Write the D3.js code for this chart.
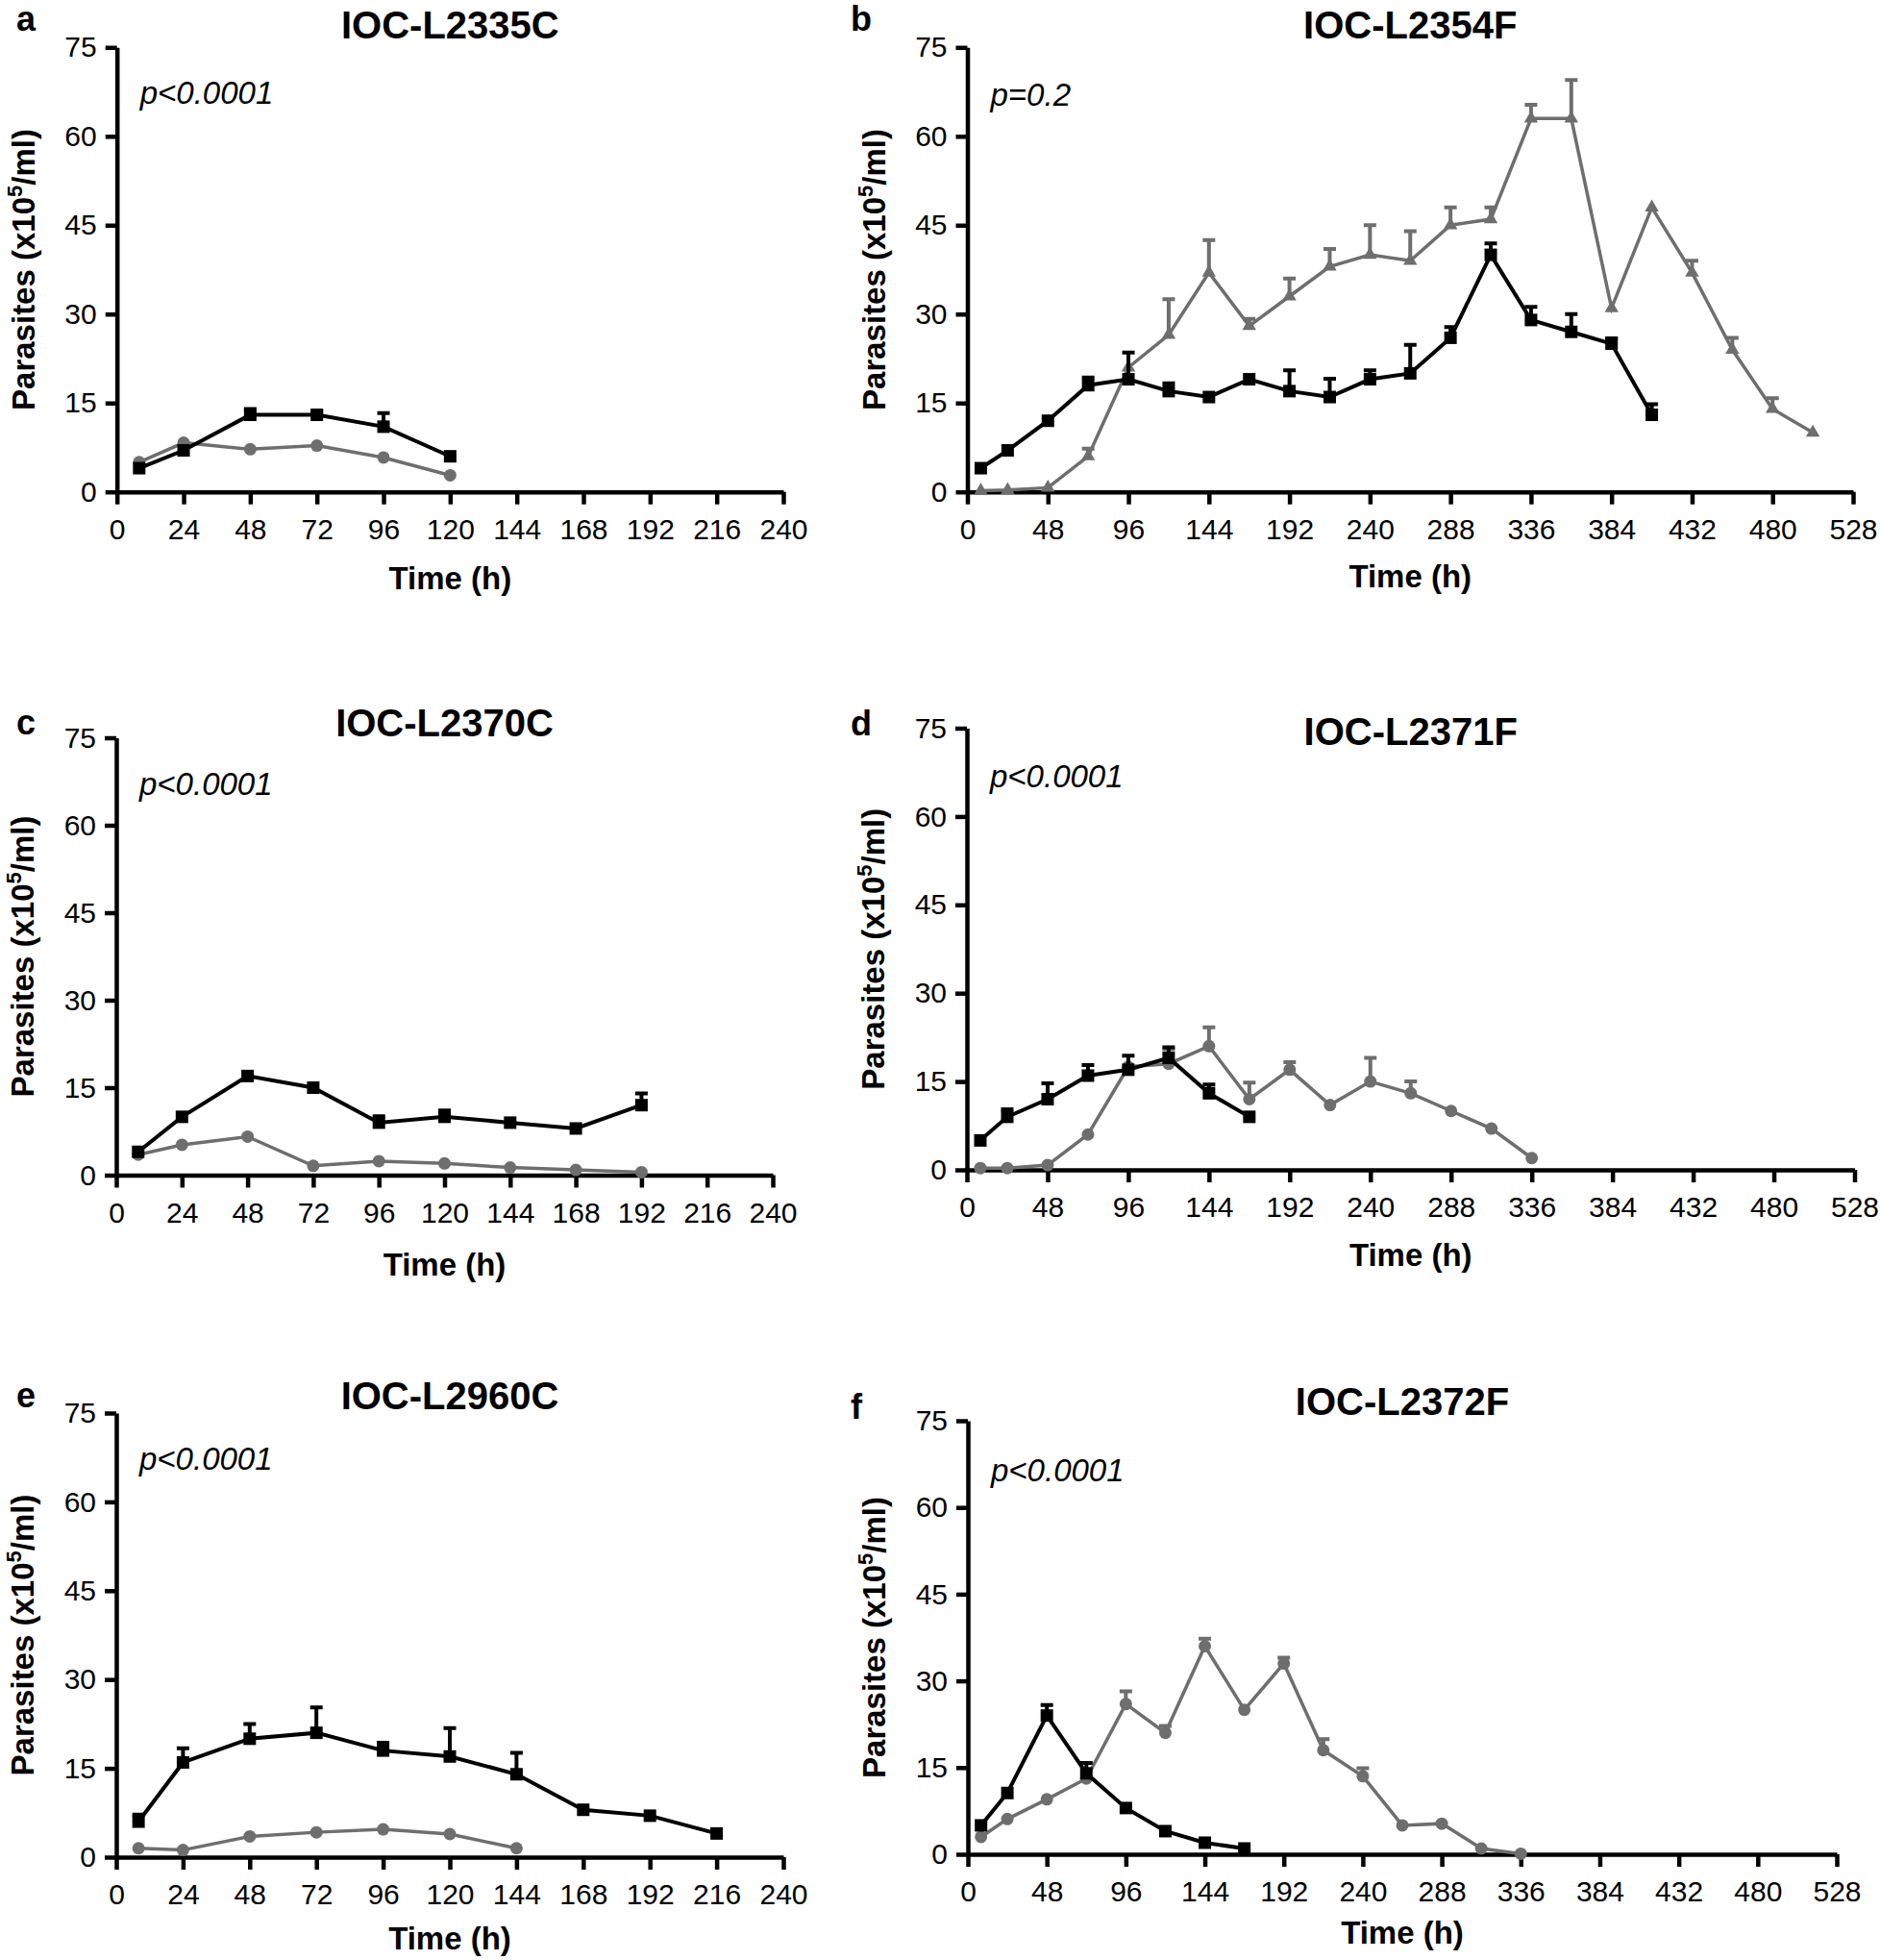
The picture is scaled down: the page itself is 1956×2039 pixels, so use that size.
<!DOCTYPE html>
<html>
<head>
<meta charset="utf-8">
<script src="https://cdnjs.cloudflare.com/ajax/libs/d3/7.8.5/d3.min.js"></script>
<style>
  body { margin: 0; background: #fff; }
  text { font-family: "Liberation Sans", Arial, Helvetica, sans-serif; }
</style>
</head>
<body>
<div id="chart"></div>
<script>
// data rows: [time (h), mean parasites (x10^5/ml), sem]
var aBlack = [[8,4,0],[24,7,0],[48,13,1],[72,13,0.6],[96,11,2.3],[120,6,0]];
var aGray  = [[8,5,0],[24,8.3,0],[48,7.2,0],[72,7.8,0],[96,5.8,0],[120,2.8,0]];

var bBlack = [[8,4,0],[24,7,0],[48,12,0],[72,18,1.3],[96,19,4.5],[120,17,1.3],[144,16,0],[168,19,0],
              [192,17,3.5],[216,16,3.1],[240,19,1.5],[264,20,4.8],[288,26,1.8],[312,40,1.9],[336,29,2.2],
              [360,27,3],[384,25,0.9],[408,13,1.8]];
var bGray  = [[8,0.2,0],[24,0.3,0],[48,0.7,0],[72,6,1.3],[96,21,0],[120,26.5,6],[144,37,5.5],[168,28,1.2],
              [192,33,3],[216,38,3],[240,40,5],[264,39,5],[288,45,3],[312,46,2],[336,63,2.3],[360,63,6.5],
              [384,31,0],[408,48,0],[432,37,2],[456,24,2],[480,14,1.8],[504,10,0]];

var cBlack = [[8,4,0],[24,10,0],[48,17,0],[72,15,0],[96,9,1.1],[120,10,1.1],[144,9,0],[168,8,0],[192,12,2]];
var cGray  = [[8,3.5,0],[24,5.2,0],[48,6.6,0],[72,1.6,0],[96,2.4,0],[120,2,0],[144,1.3,0],[168,0.9,0],[192,0.5,0]];

var dBlack = [[8,5,0],[24,9,1.3],[48,12,2.7],[72,16,1.8],[96,17,2.4],[120,19,1.8],[144,13,1.5],[168,9,0]];
var dGray  = [[8,0.3,0],[24,0.3,0],[48,0.8,0],[72,6,0],[96,17.5,0],[120,18,2.5],[144,21,3.2],[168,12,2.8],
              [192,17,1.3],[216,11,0],[240,15,4],[264,13,2],[288,10,0],[312,7,0],[336,2,0]];

var eBlack = [[8,6,1.2],[24,16,2.4],[48,20,2.5],[72,21,4.3],[96,18,1.3],[120,17,4.8],[144,14,3.6],[168,8,0],[192,7,0],[216,4,0]];
var eGray  = [[8,1.5,0],[24,1.2,0],[48,3.5,0],[72,4.2,0],[96,4.7,0],[120,3.9,0],[144,1.5,0]];

var fBlack = [[8,5,0],[24,10.6,0],[48,24,1.8],[72,14,1.8],[96,8,0],[120,4,0],[144,2,0],[168,1,0]];
var fGray  = [[8,3,0],[24,6.1,0],[48,9.5,0],[72,13.1,0],[96,26,2.2],[120,21,1.2],[144,36,1.3],[168,25,0],
              [192,33,1],[216,18,1.9],[240,13.5,1.4],[264,5,0],[288,5.3,0],[312,1,0],[336,0.1,0]];

var letters  = ["a","b","c","d","e","f"];
var titles   = ["IOC-L2335C","IOC-L2354F","IOC-L2370C","IOC-L2371F","IOC-L2960C","IOC-L2372F"];
var pValues  = ["p<0.0001","p=0.2","p<0.0001","p<0.0001","p<0.0001","p<0.0001"];
var xMaxes   = [240, 528, 240, 528, 240, 528];
var xSteps   = [24, 48, 24, 48, 24, 48];
var yTicks   = [0, 15, 30, 45, 60, 75];
var blackSeries = [aBlack, bBlack, cBlack, dBlack, eBlack, fBlack];
var graySeries  = [aGray, bGray, cGray, dGray, eGray, fGray];
var grayShapes  = ["circle","triangle","circle","circle","circle","circle"];

// panel placement (pixels)
var layout = [
  {left:121.7, right:815,   top:49.3,  bottom:511.7,  titleY:40,   letter:[17,32],    pY:108,  xlab:101},
  {left:1006.5,right:1928,  top:49.3,  bottom:511.7,  titleY:40,   letter:[885,32],   pY:110,  xlab:99},
  {left:121,   right:804,   top:767.5, bottom:1222.5, titleY:766,  letter:[17,764],   pY:827,  xlab:104},
  {left:1006,  right:1929.5,top:757.5, bottom:1217,   titleY:775,  letter:[885,765],  pY:819,  xlab:100},
  {left:121,   right:815,   top:1470,  bottom:1932,   titleY:1466, letter:[17,1464],  pY:1529, xlab:96},
  {left:1007,  right:1911,  top:1478,  bottom:1929,   titleY:1472, letter:[885,1476], pY:1541, xlab:93}
];

var svgWidth = 1956;
var svgHeight = 2039;
var gray = "#6e6e6e";
var axisWidth = 4.5;

var svg = d3.select("#chart")
  .append("svg")
  .attr("width", svgWidth)
  .attr("height", svgHeight)
  .style("background", "#fff");

letters.forEach(function(letter, i) {
  var L = layout[i];
  var g = svg.append("g").attr("class", "panel-" + letter);

  var x = d3.scaleLinear().domain([0, xMaxes[i]]).range([L.left, L.right]);
  var y = d3.scaleLinear().domain([0, 75]).range([L.bottom, L.top]);

  //axes
  var xAxis = g.append("g")
    .attr("transform", `translate(0, ${L.bottom})`)
    .call(d3.axisBottom(x)
      .tickValues(d3.range(0, xMaxes[i] + 1, xSteps[i]))
      .tickSize(13)
      .tickSizeOuter(0)
      .tickPadding(15));
  var yAxis = g.append("g")
    .attr("transform", `translate(${L.left}, 0)`)
    .call(d3.axisLeft(y)
      .tickValues(yTicks)
      .tickSize(12)
      .tickSizeOuter(0)
      .tickPadding(9));

  [xAxis, yAxis].forEach(function(ax) {
    ax.select(".domain").attr("stroke", "#000").attr("stroke-width", axisWidth);
    ax.selectAll(".tick line").attr("stroke", "#000").attr("stroke-width", axisWidth);
    ax.selectAll(".tick text")
      .attr("fill", "#000")
      .style("font-size", "30px")
      .style("font-family", '"Liberation Sans", Arial, sans-serif');
  });

  //series: gray first, black on top
  drawSeries(g, graySeries[i], x, y, gray, grayShapes[i], 3.5);
  drawSeries(g, blackSeries[i], x, y, "#000", "square", 4);

  //texts
  g.append("text")
    .attr("x", (L.left + L.right) / 2)
    .attr("y", L.titleY)
    .attr("text-anchor", "middle")
    .style("font-size", "40px")
    .style("font-weight", "bold")
    .text(titles[i]);

  g.append("text")
    .attr("x", L.letter[0])
    .attr("y", L.letter[1])
    .style("font-size", "36px")
    .style("font-weight", "bold")
    .text(letter);

  g.append("text")
    .attr("x", L.left + 24)
    .attr("y", L.pY)
    .style("font-size", "33px")
    .style("font-style", "italic")
    .text(pValues[i]);

  g.append("text")
    .attr("x", (L.left + L.right) / 2)
    .attr("y", L.bottom + L.xlab)
    .attr("text-anchor", "middle")
    .style("font-size", "33px")
    .style("font-weight", "bold")
    .text("Time (h)");

  var yl = g.append("text")
    .attr("transform", `translate(${L.left - 86}, ${(L.top + L.bottom) / 2}) rotate(-90)`)
    .attr("text-anchor", "middle")
    .style("font-size", "33px")
    .style("font-weight", "bold");
  yl.append("tspan").text("Parasites (x10");
  yl.append("tspan").attr("dy", -13).style("font-size", "22px").text("5");
  yl.append("tspan").attr("dy", 13).text("/ml)");
});

function drawSeries(g, data, x, y, color, shape, lw) {
  var line = d3.line()
    .x(d => x(d[0]))
    .y(d => y(d[1]));

  g.append("path")
    .datum(data)
    .attr("d", line)
    .attr("fill", "none")
    .attr("stroke", color)
    .attr("stroke-width", lw)
    .attr("stroke-linejoin", "miter");

  //error bars (upper only)
  var bars = data.filter(d => d[2] > 0);
  g.selectAll(null)
    .data(bars)
    .enter()
    .append("path")
    .attr("d", d => `M${x(d[0])},${y(d[1])}V${y(d[1] + d[2])}M${x(d[0]) - 6.5},${y(d[1] + d[2])}h13`)
    .attr("stroke", color)
    .attr("stroke-width", 4)
    .attr("fill", "none");

  var pts = g.selectAll(null).data(data).enter();
  if (shape === "square") {
    pts.append("rect")
      .attr("x", d => x(d[0]) - 6.5)
      .attr("y", d => y(d[1]) - 6.5)
      .attr("width", 13)
      .attr("height", 13)
      .attr("fill", color);
  } else if (shape === "circle") {
    pts.append("circle")
      .attr("cx", d => x(d[0]))
      .attr("cy", d => y(d[1]))
      .attr("r", 6.5)
      .attr("fill", color);
  } else {
    pts.append("path")
      .attr("transform", d => `translate(${x(d[0])}, ${y(d[1])})`)
      .attr("d", d3.symbol(d3.symbolTriangle).size(90))
      .attr("fill", color);
  }
}
</script>
</body>
</html>
